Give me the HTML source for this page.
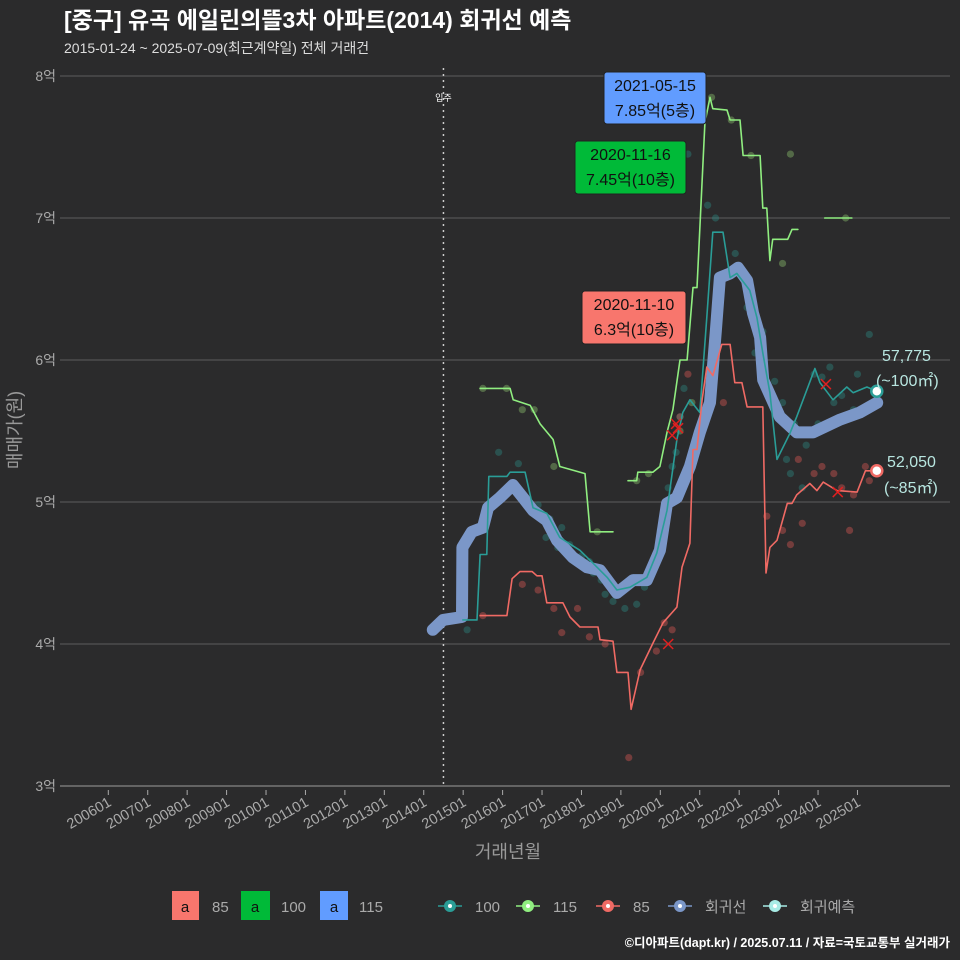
<!DOCTYPE html>
<html><head><meta charset="utf-8">
<style>
body{margin:0;background:#2b2b2c;}
svg{display:block;font-family:"Liberation Sans","Noto Sans CJK KR",sans-serif;}
</style></head>
<body>
<svg id="chart" width="960" height="960" viewBox="0 0 960 960">
<rect x="0" y="0" width="960" height="960" fill="#2b2b2c"/>
<text x="64" y="28" fill="#ffffff" font-size="23" font-weight="bold">[중구] 유곡 에일린의뜰3차 아파트(2014) 회귀선 예측</text>
<text x="64" y="53" fill="#dddddd" font-size="14">2015-01-24 ~ 2025-07-09(최근계약일) 전체 거래건</text>
<g id="grid"></g>
<g id="yaxis"></g>
<g id="xaxis"></g>
<g id="marks"></g>
<text x="0" y="0" transform="translate(21,430) rotate(-90)" text-anchor="middle" fill="#999" font-size="18">매매가(원)</text>
<text x="508" y="858" text-anchor="middle" fill="#999" font-size="18">거래년월</text>
<g>
 <rect x="172" y="891" width="27" height="29" fill="#f8766d"/>
 <text x="185" y="912" text-anchor="middle" font-size="15" fill="#111">a</text>
 <text x="212" y="912" font-size="15" fill="#aaa">85</text>
 <rect x="241" y="891" width="29" height="29" fill="#00ba38"/>
 <text x="255" y="912" text-anchor="middle" font-size="15" fill="#111">a</text>
 <text x="281" y="912" font-size="15" fill="#aaa">100</text>
 <rect x="320" y="891" width="28" height="29" fill="#619cff"/>
 <text x="334" y="912" text-anchor="middle" font-size="15" fill="#111">a</text>
 <text x="359" y="912" font-size="15" fill="#aaa">115</text>
 <g id="leg2"></g>
</g>
<text x="950" y="947" text-anchor="end" fill="#fff" font-size="12.5" font-weight="bold">©디아파트(dapt.kr) / 2025.07.11 / 자료=국토교통부 실거래가</text>
</svg>
<script>
const yTicks=[3,4,5,6,7,8];
const xTickLabels=['200601','200701','200801','200901','201001','201101','201201','201301','201401','201501','201601','201701','201801','201901','202001','202101','202201','202301','202401','202501'];
const moveIn=2014.5;
const regYears=[2014.23,2014.49,2014.97,2014.98,2015.22,2015.5,2015.63,2015.93,2016.26,2016.52,2016.77,2017.12,2017.38,2017.78,2018.14,2018.47,2018.9,2019.31,2019.66,2019.99,2020.17,2020.42,2020.75,2021.0,2021.26,2021.41,2021.51,2021.77,2021.97,2022.2,2022.35,2022.53,2022.61,2023.03,2023.46,2023.87,2024.56,2025.06,2025.5];
const regVals=[4.10,4.17,4.19,4.68,4.79,4.82,4.96,5.03,5.12,5.03,4.94,4.87,4.73,4.61,4.54,4.52,4.36,4.45,4.45,4.66,4.99,5.03,5.25,5.49,5.70,6.21,6.58,6.61,6.65,6.56,6.33,6.16,5.86,5.60,5.49,5.49,5.58,5.63,5.70];
const s100Years=[2014.99,2015.35,2015.43,2015.6,2015.65,2016.11,2016.19,2016.57,2016.77,2017.12,2017.45,2017.96,2018.29,2018.65,2018.9,2019.23,2019.66,2019.91,2020.17,2020.42,2020.57,2020.75,2021.0,2021.18,2021.33,2021.59,2021.77,2021.94,2022.27,2022.45,2022.6,2022.78,2022.96,2023.28,2023.46,2023.92,2024.05,2024.38,2024.73,2024.89,2025.24,2025.49];
const s100Vals=[4.17,4.17,4.63,4.63,5.18,5.18,5.21,5.21,4.96,4.92,4.75,4.66,4.57,4.47,4.38,4.40,4.47,4.64,4.94,5.44,5.63,5.72,5.63,6.30,6.90,6.90,6.58,6.61,6.49,6.30,6.05,5.77,5.30,5.48,5.60,5.94,5.84,5.72,5.81,5.77,5.81,5.78];
const s115aYears=[2015.43,2016.19,2016.27,2016.7,2016.95,2017.28,2017.45,2018.09,2018.22,2018.8];
const s115aVals=[5.80,5.80,5.72,5.68,5.55,5.44,5.25,5.20,4.79,4.79];
const s115bYears=[2019.18,2019.4,2019.43,2019.81,2019.99,2020.17,2020.32,2020.5,2020.68,2020.83,2020.93,2021.13,2021.26,2021.33,2021.69,2021.77,2022.02,2022.1,2022.53,2022.6,2022.7,2022.78,2022.85,2023.23,2023.34,2023.49];
const s115bVals=[5.15,5.15,5.21,5.21,5.25,5.49,5.65,6.00,6.00,6.51,6.51,7.67,7.85,7.77,7.76,7.69,7.69,7.44,7.44,7.07,7.07,6.70,6.85,6.85,6.92,6.92];
const s115cYears=[2024.17,2024.86];
const s115cVals=[7.00,7.00];
const s85Years=[2015.43,2016.11,2016.24,2016.44,2016.75,2016.87,2017.0,2017.12,2017.53,2017.71,2017.96,2018.42,2018.47,2018.8,2018.9,2019.18,2019.26,2019.49,2019.82,2020.07,2020.42,2020.55,2020.75,2020.83,2020.93,2021.06,2021.18,2021.33,2021.56,2021.77,2021.89,2022.07,2022.2,2022.6,2022.68,2022.78,2022.96,2023.22,2023.34,2023.46,2023.79,2023.97,2024.13,2024.48,2024.99,2025.2,2025.49];
const s85Vals=[4.20,4.20,4.46,4.51,4.51,4.48,4.48,4.29,4.29,4.19,4.12,4.12,4.03,4.02,3.80,3.80,3.54,3.82,4.01,4.15,4.26,4.54,4.71,5.37,5.37,5.72,5.95,5.89,6.11,6.11,5.84,5.84,5.67,5.67,4.50,4.68,4.73,4.99,4.99,5.05,5.13,5.08,5.14,5.08,5.07,5.22,5.22];
const dots100Years=[2015.1,2015.9,2016.4,2016.9,2017.2,2017.5,2017.7,2018.0,2018.3,2018.6,2018.8,2019.1,2019.4,2019.6,2019.8,2020.0,2020.2,2020.4,2020.5,2020.6,2020.7,2021.2,2021.4,2021.9,2022.2,2022.6,2022.9,2023.1,2023.4,2023.7,2023.9,2024.1,2024.3,2024.6,2024.8,2025.0,2025.3,2023.3,2023.6,2024.4,2017.1,2017.4,2018.2,2018.5,2019.9,2020.3,2022.4,2023.2,2024.0,2024.9];
const dots100Vals=[4.1,5.35,5.27,4.98,4.88,4.82,4.70,4.62,4.50,4.35,4.30,4.25,4.28,4.40,4.55,4.80,5.10,5.35,5.60,5.80,7.45,7.09,7.00,6.75,6.37,6.20,5.85,5.70,5.55,5.40,5.90,5.88,5.95,5.75,5.60,5.90,6.18,5.20,5.10,5.70,4.75,4.68,4.58,4.45,4.62,5.25,6.05,5.30,5.55,5.65];
const dots115Years=[2015.5,2016.1,2016.5,2016.8,2017.3,2018.4,2019.4,2019.7,2020.5,2020.8,2021.3,2021.8,2022.3,2023.1,2023.3,2024.7];
const dots115Vals=[5.80,5.80,5.65,5.65,5.25,4.79,5.15,5.20,5.50,5.70,7.85,7.69,7.44,6.68,7.45,7.00];
const dots85Years=[2015.5,2016.5,2016.9,2017.3,2017.5,2017.9,2018.2,2018.6,2019.2,2019.5,2019.9,2020.1,2020.3,2020.5,2020.7,2021.1,2021.6,2022.7,2023.1,2023.3,2023.6,2023.9,2024.1,2024.4,2024.6,2024.8,2025.2,2025.3,2023.5,2024.9];
const dots85Vals=[4.20,4.42,4.38,4.25,4.08,4.25,4.05,4.00,3.20,3.80,3.95,4.15,4.10,5.60,5.90,5.55,5.70,4.90,4.80,4.70,4.85,5.20,5.25,5.20,5.10,4.80,5.25,5.15,5.30,5.05];
const xMarksYears=[2020.3,2020.4,2020.45,2020.2,2024.2,2024.5];
const xMarksVals=[5.47,5.55,5.52,4.00,5.83,5.07];
const NS='http://www.w3.org/2000/svg';
const xS=y=>108.3+(y-2006)*39.43;
const yS=v=>76+(8-v)*142;
function mk(tag,attrs,parent){const e=document.createElementNS(NS,tag);for(const k in attrs)e.setAttribute(k,attrs[k]);parent.appendChild(e);return e;}
const grid=document.getElementById('grid'),yax=document.getElementById('yaxis'),xax=document.getElementById('xaxis'),marks=document.getElementById('marks');
yTicks.forEach(t=>{
 const l=mk('line',{x1:60,x2:950,y1:yS(t),y2:yS(t),stroke:t===3?'#777':'#5e5e5e','stroke-width':t===3?1.5:1},grid);
 
 
 const tx=mk('text',{x:56,y:yS(t)+5,'text-anchor':'end',fill:'#aaa','font-size':14},yax);
 tx.textContent=t+'억';
 
 
});
xTickLabels.forEach((lab,i)=>{
 const x=xS(2006+i);
 mk('line',{x1:x,x2:x,y1:790,y2:795,stroke:'#aaa'},xax);
 const tx=mk('text',{x:0,y:0,transform:`translate(${x+4},${805}) rotate(-30)`,'text-anchor':'end',fill:'#aaa','font-size':14.5},xax);
 tx.textContent=lab;
 
 
});
const mi=mk('line',{x1:xS(moveIn),x2:xS(moveIn),y1:68,y2:786,stroke:'#ccc','stroke-width':1.5,'stroke-dasharray':'2,4'},marks);


const mt=mk('text',{x:xS(moveIn),y:101,'text-anchor':'middle',fill:'#fff','font-size':9},marks);
mt.textContent='입주';


function dots(ys,vs,col,name){ys.forEach((y,i)=>{const c=mk('circle',{cx:xS(y),cy:yS(vs[i]),r:3.6,fill:col,'fill-opacity':0.4},marks);
 
 });}
dots(dots100Years,dots100Vals,'#2e8b85','dot-100');
dots(dots115Years,dots115Vals,'#90c870','dot-115');
dots(dots85Years,dots85Vals,'#e05a55','dot-85');
function line(ys,vs,col,w,name){const d=ys.map((y,i)=>(i?'L':'M')+xS(y).toFixed(1)+','+yS(vs[i]).toFixed(1)).join('');
 const p=mk('path',{d:d,fill:'none',stroke:col,'stroke-width':w,'stroke-linejoin':'round','stroke-linecap':'round'},marks);
 
 }
line(regYears,regVals,'#7b97c8',12,'regression-line');
line(s100Years,s100Vals,'#2a9d97',1.6,'line-100');
line(s115aYears,s115aVals,'#90ee80',1.6,'line-115');
line(s115bYears,s115bVals,'#90ee80',1.6,'line-115');
line(s115cYears,s115cVals,'#90ee80',1.6,'line-115');
line(s85Years,s85Vals,'#f06a64',1.6,'line-85');
xMarksYears.forEach((y,i)=>{const cx=xS(y),cy=yS(xMarksVals[i]);
 const p=mk('path',{d:`M${cx-5},${cy-5}L${cx+5},${cy+5}M${cx-5},${cy+5}L${cx+5},${cy-5}`,stroke:'#e02020','stroke-width':1.5},marks);
 
 });
const e1=mk('circle',{cx:xS(2025.49),cy:yS(5.78),r:5.5,fill:'#fff',stroke:'#2a9d97','stroke-width':2.5},marks);


const e2=mk('circle',{cx:xS(2025.49),cy:yS(5.22),r:5.5,fill:'#fff',stroke:'#f06a64','stroke-width':2.5},marks);


function txt(x,y,s,col,size,anchor,name){const t=mk('text',{x:x,y:y,fill:col,'font-size':size,'text-anchor':anchor||'start'},marks);t.textContent=s;
 
 return t;}
txt(882,361,'57,775','#b8e6e0',16,'start','end-label-100-price');
txt(876,386,'(~100㎡)','#b8e6e0',16,'start','end-label-100-area');
txt(887,467,'52,050','#b8e6e0',16,'start','end-label-85-price');
txt(884,493,'(~85㎡)','#b8e6e0',16,'start','end-label-85-area');
function box(x,y,w,h,col,l1,l2,name){const r=mk('rect',{x:x,y:y,width:w,height:h,rx:3,fill:col,stroke:'#222'},marks);
 
 
 txt(x+w/2,y+19,l1,'#111',16,'middle',name+'-date');txt(x+w/2,y+44,l2,'#111',16,'middle',name+'-price');}
box(604,72,102,52,'#619cff','2021-05-15','7.85억(5층)','annotation-115');
box(575,141,111,53,'#00ba38','2020-11-16','7.45억(10층)','annotation-100');
box(582,291,104,53,'#f8766d','2020-11-10','6.3억(10층)','annotation-85');
const leg=document.getElementById('leg2');
[[438,'#2a9d97','100'],[516,'#90ee80','115'],[596,'#f06a64','85'],[668,'#7b97c8','회귀선'],[763,'#a8ece6','회귀예측']].forEach(([x,c,l])=>{
 mk('line',{x1:x,x2:x+24,y1:906,y2:906,stroke:c,'stroke-width':1.5},leg);
 mk('circle',{cx:x+12,cy:906,r:6,fill:c},leg);
 mk('circle',{cx:x+12,cy:906,r:2,fill:'#fff'},leg);
 const t=mk('text',{x:x+37,y:912,fill:'#aaa','font-size':15},leg);t.textContent=l;
 
 
});
</script>
</body></html>
